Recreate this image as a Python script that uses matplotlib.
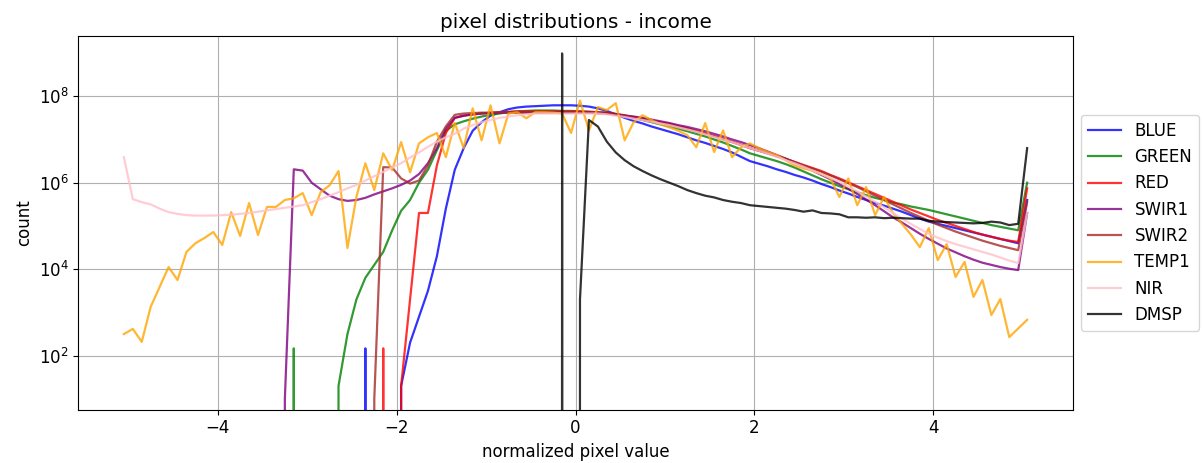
import numpy as np
import matplotlib
matplotlib.use("Agg")
import matplotlib.pyplot as plt

# histogram bin centres (normalized pixel value)
bin_centers = np.linspace(-5.05, 5.05, 102)

# log10(count) per bin, None = empty bin
blue = [None] * 27 + [2.17] + [None] * 3 + [
    1.3, 2.3, 2.9, 3.5, 4.3, 5.4, 6.3, 6.8, 7.2, 7.4,
    7.55, 7.63, 7.7, 7.74, 7.76, 7.77, 7.78, 7.79, 7.79, 7.79,
    7.78, 7.76, 7.72, 7.66, 7.58, 7.5, 7.43, 7.37, 7.3, 7.24,
    7.18, 7.12, 7.05, 6.98, 6.92, 6.85, 6.78, 6.7, 6.6, 6.5,
    6.44, 6.38, 6.31, 6.25, 6.18, 6.12, 6.05, 5.97, 5.9, 5.82,
    5.75, 5.67, 5.6, 5.53, 5.47, 5.4, 5.33, 5.25, 5.17, 5.1,
    5.05, 5.0, 4.95, 4.9, 4.85, 4.8, 4.75, 4.7, 4.65, 4.6,
    5.6]
green = [None] * 19 + [2.17] + [None] * 4 + [
    1.3, 2.5, 3.3, 3.8, 4.1, 4.4, 4.9,
    5.35, 5.6, 6.0, 6.3, 6.75, 7.2, 7.35, 7.42, 7.48, 7.53,
    7.57, 7.6, 7.63, 7.65, 7.66, 7.67, 7.67, 7.67, 7.66, 7.66,
    7.65, 7.64, 7.63, 7.62, 7.59, 7.55, 7.5, 7.45, 7.4, 7.35,
    7.3, 7.25, 7.19, 7.13, 7.07, 7.0, 6.93, 6.85, 6.77, 6.68,
    6.62, 6.56, 6.5, 6.43, 6.35, 6.26, 6.17, 6.08, 6.0, 5.92,
    5.85, 5.78, 5.71, 5.65, 5.6, 5.54, 5.5, 5.45, 5.41, 5.37,
    5.32, 5.27, 5.22, 5.17, 5.12, 5.07, 5.02, 4.98, 4.94, 4.9,
    6.0]
red = [None] * 29 + [2.17] + [None] + [
    1.3, 3.3, 5.3, 5.3, 6.4, 7.15, 7.5, 7.55, 7.58, 7.6,
    7.62, 7.63, 7.64, 7.65, 7.65, 7.65, 7.65, 7.65, 7.65, 7.65,
    7.65, 7.64, 7.63, 7.62, 7.59, 7.56, 7.52, 7.48, 7.44, 7.4,
    7.36, 7.31, 7.26, 7.2, 7.14, 7.08, 7.02, 6.95, 6.88, 6.8,
    6.74, 6.68, 6.62, 6.55, 6.48, 6.41, 6.34, 6.27, 6.18, 6.1,
    6.01, 5.92, 5.83, 5.74, 5.65, 5.56, 5.47, 5.38, 5.3, 5.22,
    5.14, 5.07, 5.0, 4.93, 4.86, 4.8, 4.75, 4.7, 4.66, 4.63,
    5.87]
swir1 = [None] * 18 + [
    1.0, 6.31, 6.28,
    6.0, 5.85, 5.7, 5.62, 5.58, 5.6, 5.65, 5.73, 5.8, 5.87,
    5.95, 6.05, 6.2, 6.45, 6.8, 7.25, 7.5, 7.55, 7.58, 7.6,
    7.61, 7.62, 7.62, 7.62, 7.62, 7.62, 7.62, 7.62, 7.62, 7.62,
    7.62, 7.62, 7.61, 7.6, 7.58, 7.55, 7.53, 7.5, 7.46, 7.42,
    7.38, 7.33, 7.29, 7.24, 7.19, 7.13, 7.07, 7.0, 6.94, 6.87,
    6.8, 6.72, 6.64, 6.56, 6.47, 6.38, 6.28, 6.18, 6.08, 5.97,
    5.86, 5.74, 5.61, 5.48, 5.34, 5.2, 5.08, 4.95, 4.82, 4.7,
    4.59, 4.48, 4.39, 4.3, 4.22, 4.15, 4.1, 4.05, 4.01, 3.98,
    5.3]
swir2 = [None] * 28 + [
    1.0, 6.36, 6.35,
    6.1, 5.98, 6.05, 6.4, 6.95, 7.3, 7.57, 7.6, 7.61, 7.62,
    7.62, 7.63, 7.63, 7.63, 7.63, 7.63, 7.63, 7.63, 7.63, 7.63,
    7.63, 7.62, 7.61, 7.6, 7.57, 7.54, 7.5, 7.46, 7.42, 7.38,
    7.34, 7.29, 7.24, 7.19, 7.13, 7.07, 7.0, 6.94, 6.87, 6.8,
    6.74, 6.68, 6.61, 6.55, 6.48, 6.4, 6.33, 6.25, 6.17, 6.08,
    5.99, 5.9, 5.8, 5.7, 5.6, 5.5, 5.4, 5.3, 5.21, 5.12,
    5.03, 4.95, 4.87, 4.8, 4.73, 4.66, 4.6, 4.54, 4.49, 4.44,
    5.55]
temp1 = [
    2.5, 2.62, 2.32, 3.13, 3.59, 4.05, 3.75, 4.4, 4.6, 4.72,
    4.86, 4.56, 5.32, 4.77, 5.53, 4.79, 5.44, 5.44, 5.6, 5.64,
    5.76, 5.25, 5.78, 5.94, 6.27, 4.49, 5.67, 6.45, 5.83, 6.68,
    6.29, 6.94, 6.24, 6.91, 7.05, 7.15, 6.59, 7.38, 6.8, 7.72,
    6.98, 7.79, 6.91, 7.6, 7.63, 7.49, 7.63, 7.63, 7.62, 7.6,
    7.15, 7.9, 7.21, 7.75, 7.68, 7.84, 6.98, 7.4, 7.56, 7.45,
    7.35, 7.28, 7.2, 7.1, 6.82, 7.38, 6.71, 7.21, 6.59, 6.82,
    6.91, 6.8, 6.71, 6.64, 6.52, 6.4, 6.33, 6.28, 6.2, 6.1,
    5.67, 6.1, 5.48, 5.9, 5.25, 5.67, 5.3, 5.05, 4.8, 4.51,
    4.95, 4.21, 4.58, 3.82, 4.17, 3.36, 3.75, 2.94, 3.31, 2.43,
    2.63, 2.83]
nir = [
    6.59, 5.62, 5.55, 5.5, 5.4, 5.32, 5.28, 5.25, 5.24, 5.24,
    5.24, 5.25, 5.26, 5.28, 5.3, 5.33, 5.36, 5.39, 5.42, 5.45,
    5.48, 5.55, 5.62, 5.7, 5.78, 5.87, 5.95, 6.05, 6.15, 6.25,
    6.35, 6.45, 6.58, 6.7, 6.83, 6.95, 7.05, 7.13, 7.25, 7.33,
    7.4, 7.45, 7.5, 7.53, 7.56, 7.58, 7.6, 7.6, 7.6, 7.6,
    7.6, 7.6, 7.6, 7.6, 7.58, 7.55, 7.52, 7.48, 7.45, 7.41,
    7.37, 7.33, 7.28, 7.23, 7.18, 7.12, 7.06, 7.0, 6.94, 6.87,
    6.8, 6.74, 6.67, 6.6, 6.52, 6.45, 6.37, 6.28, 6.2, 6.11,
    6.02, 5.91, 5.8, 5.68, 5.56, 5.43, 5.3, 5.17, 5.05, 4.93,
    4.82, 4.73, 4.65, 4.58, 4.52, 4.46, 4.4, 4.34, 4.27, 4.2,
    4.14, 5.3]
dmsp = [None] * 49 + [8.99, None, 3.3] + [
    7.45, 7.3, 6.95, 6.7, 6.52, 6.38, 6.27, 6.17, 6.08,
    6.0, 5.92, 5.83, 5.76, 5.7, 5.66, 5.6, 5.56, 5.53, 5.48,
    5.46, 5.44, 5.42, 5.4, 5.37, 5.33, 5.36, 5.3, 5.29, 5.27,
    5.2, 5.2, 5.19, 5.2, 5.18, 5.19, 5.18, 5.17, 5.17, 5.12,
    5.1, 5.09, 5.08, 5.07, 5.06, 5.07, 5.1, 5.08, 5.02, 5.05,
    6.8]

bands = ["BLUE", "GREEN", "RED", "SWIR1", "SWIR2", "TEMP1", "NIR", "DMSP"]
series = [blue, green, red, swir1, swir2, temp1, nir, dmsp]
colors = ["blue", "green", "red", "purple", "brown", "orange", "pink", "black"]


def counts(exps):
    # empty bins become 0 (dropped off the bottom of the log axis)
    return np.array([0.0 if e is None else 10.0 ** e for e in exps])


plt.rcParams["font.size"] = 12
fig = plt.figure(figsize=(12.04, 4.63), dpi=100)
ax = fig.add_axes([0.065, 0.115, 0.826, 0.807])

for name, vals, c in zip(bands, series, colors):
    ax.plot(bin_centers, counts(vals), color=c, alpha=0.8, lw=1.6, label=name)

ax.set_yscale("log")
ax.set_xlim(-5.56, 5.56)
ax.set_ylim(10 ** 0.75, 10 ** 9.39)
ax.set_xticks([-4, -2, 0, 2, 4])
ax.set_yticks([1e2, 1e4, 1e6, 1e8])
ax.minorticks_off()
ax.grid()
ax.set_title("pixel distributions - income")
ax.set_xlabel("normalized pixel value")
ax.set_ylabel("count")
ax.legend(loc="center left", bbox_to_anchor=(1.0, 0.5))

fig.savefig("out.png", dpi=100)
